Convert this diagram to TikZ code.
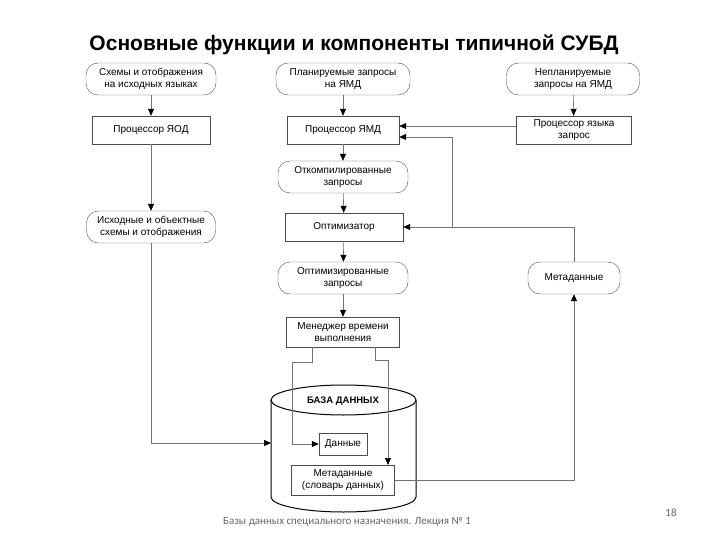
\documentclass[tikz,border=0pt]{standalone}
\usepackage{fontspec}
\setmainfont{Liberation Sans}
\newfontfamily\footfont{Carlito}
\usetikzlibrary{arrows.meta}
\begin{document}
\begin{tikzpicture}[x=1pt,y=-1pt,
  every node/.style={font=\fontsize{10}{11.5}\selectfont, align=center, inner sep=0pt},
  term/.style={draw=black!70, rounded corners=12pt, minimum width=#1, minimum height=32pt},
  term/.default=130pt,
  box/.style={draw=black!70, minimum height=28pt},
  ln/.style={draw=black!55, line width=0.6pt},
  tip/.tip={Triangle[length=7pt,width=6pt,fill=black,color=black]},
  ar/.style={ln, -tip}]
\useasboundingbox (0,0) rectangle (720,540);
\node[font=\fontsize{21}{24}\selectfont\bfseries] (title) at (354,45) {Основные функции и компоненты типичной СУБД};
\node[term] (a1) at (151,79) {Схемы и отображения\\на исходных языках};
\node[term=134pt] (a2) at (343,79) {Планируемые запросы\\на ЯМД};
\node[term=133pt] (a3) at (573,79) {Непланируемые\\запросы на ЯМД};
\node[box, minimum width=118pt] (b1) at (151,130) {Процессор ЯОД};
\node[box, minimum width=112pt] (b2) at (343,130) {Процессор ЯМД};
\node[box, minimum width=115pt] (b3) at (574,130) {Процессор языка\\запрос};
\node[term] (c2) at (343,177) {Откомпилированные\\запросы};
\node[term=129pt] (c1) at (151,227) {Исходные и объектные\\схемы и отображения};
\node[box, minimum width=118pt] (d2) at (344,227) {Оптимизатор};
\node[term] (e2) at (343,278) {Оптимизированные\\запросы};
\node[term=92pt] (meta) at (574,278) {Метаданные};
\node[box, minimum width=113pt, minimum height=30pt] (mgr) at (343,332) {Менеджер времени\\выполнения};
% cylinder
\draw[black, line width=1pt] (271,400) -- (271,497) arc[start angle=180,end angle=360,x radius=72.5pt,y radius=15pt] -- (416,400);
\draw[black, line width=1pt] (343.5,400) ellipse[x radius=72.5pt,y radius=15pt];
\node[font=\fontsize{9.5}{11}\selectfont\bfseries] (db) at (343,401) {БАЗА ДАННЫХ};
\coordinate (cylL) at (271,443);
\node[box, minimum width=48pt, minimum height=22pt] (data) at (343,444) {Данные};
\node[box, minimum width=103pt, minimum height=30pt] (dict) at (343,480) {Метаданные\\(словарь данных)};
% connectors
\draw[ar] (a1) -- (b1);
\draw[ar] (b1) -- (c1);
\draw[ar] (a2) -- (b2);
\draw[ar] (a3) -- (b3);
\draw[ar] (b2) -- (c2);
\draw[ar] (c2) -- (d2);
\draw[ar] (d2) -- (e2);
\draw[ar] (e2) -- (mgr);
\draw[ar] (b3.west|-0,126) -- (b2.east|-0,126);
\draw[ar] (meta.north) |- (d2.east);
\draw[ar] (452,227) |- (b2.east|-0,137);
\draw[ar] (c1.south) |- (cylL);
\draw[ar] (312,347) -- (312,362) -- (292,362) |- (data.west);
\draw[ar] (375,347) -- (375,360) -- (388,360) -- (388,465);
\draw[ar] (dict.east) -| (meta.south);
\node[text=black!60, font=\footfont\fontsize{11}{12}\selectfont] (foot) at (347,522) {Базы данных специального назначения. Лекция № 1};
\node[text=black!60, font=\footfont\fontsize{11}{12}\selectfont] (pg) at (671,513) {18};
\end{tikzpicture}
\end{document}
